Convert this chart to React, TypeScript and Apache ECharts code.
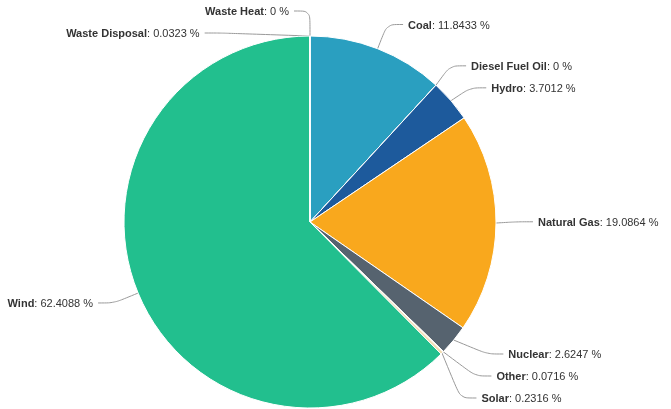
import React, { useEffect, useRef } from "react";
import * as echarts from "echarts";

const categories = ["Coal", "Diesel Fuel Oil", "Hydro", "Natural Gas", "Nuclear", "Other", "Solar", "Wind", "Waste Disposal", "Waste Heat"];
const values = [11.8433, 0, 3.7012, 19.0864, 2.6247, 0.0716, 0.2316, 62.4088, 0.0323, 0];
const colors = ["#2a9fc0", "#1c3f7a", "#1d5a9c", "#f9a81d", "#56636f", "#e3b98d", "#f2dcb0", "#22bf8e", "#3c4a57", "#8a8a8a"];

export default function App() {
  const ref = useRef<HTMLDivElement>(null);
  useEffect(() => {
    const chart = echarts.init(ref.current!, null, { renderer: "svg" });
    chart.setOption({
      animation: false,
      series: [
        {
          type: "pie",
          center: [310, 222],
          radius: 186,
          startAngle: 90,
          clockwise: true,
          avoidLabelOverlap: true,
          data: categories.map((name, i) => ({
            name,
            value: values[i],
            itemStyle: { color: colors[i] },
          })),
          itemStyle: { borderColor: "#ffffff", borderWidth: 1 },
          label: {
            show: true,
            overflow: "none",
            formatter: "{b|{b}}: {c} %",
            fontFamily: "Liberation Sans, Arial, sans-serif",
            fontSize: 11,
            lineHeight: 20,
            color: "#333333",
            rich: {
              b: { fontWeight: "bold", fontSize: 11, lineHeight: 20, color: "#333333", fontFamily: "Liberation Sans, Arial, sans-serif" },
            },
          },
          labelLine: {
            show: true,
            length: 26,
            length2: 16,
            smooth: 0.3,
            lineStyle: { color: "#999999", width: 1 },
          },
        },
      ],
    });
    return () => chart.dispose();
  }, []);
  return <div ref={ref} style={{ position: "fixed", left: 0, top: 0, width: 671, height: 409 }} />;
}
